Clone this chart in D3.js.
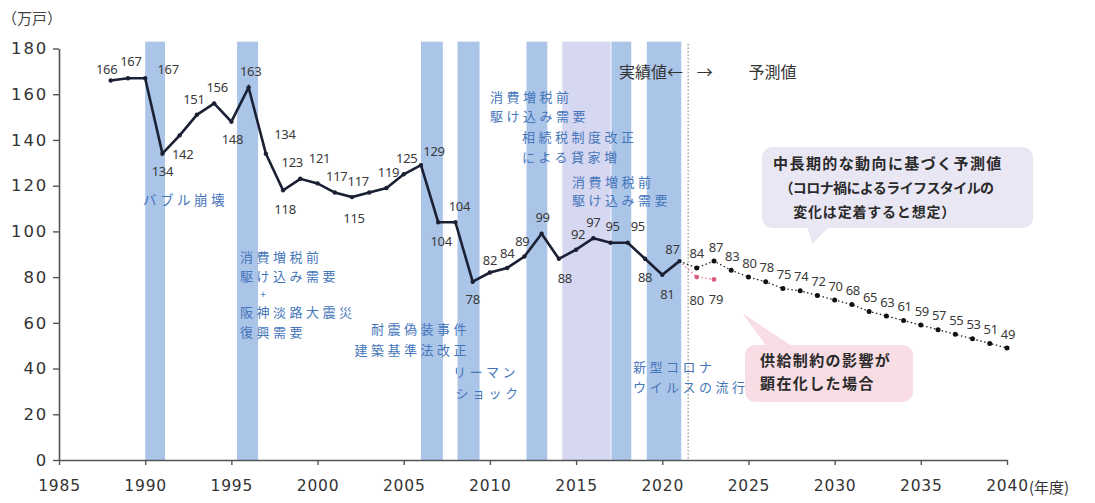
<!DOCTYPE html>
<html>
<head>
<meta charset="utf-8">
<script src="https://cdn.jsdelivr.net/npm/d3@7"></script>
<style>
  body { margin: 0; background: #fff; }
  svg { display: block; font-family: "Noto Sans CJK JP", "Noto Sans", sans-serif; }
</style>
</head>
<body>
<svg id="chart" width="1095" height="503"></svg>
<script>
// 新設住宅着工戸数（万戸、年度）
const actualYears = d3.range(1988, 2022);
const actualValues = [166, 167, 167, 134, 142, 151, 156, 148, 163, 134, 118, 123, 121, 117, 115, 117, 119, 125, 129, 104, 104, 78, 82, 84, 89, 99, 88, 92, 97, 95, 95, 88, 81, 87];

// 中長期的な動向に基づく予測値
const forecastYears = d3.range(2022, 2041);
const forecastValues = [84, 87, 83, 80, 78, 75, 74, 72, 70, 68, 65, 63, 61, 59, 57, 55, 53, 51, 49];

// 供給制約の影響が顕在化した場合
const supplyYears = [2022, 2023];
const supplyValues = [80, 79];

const yTickValues = [0, 20, 40, 60, 80, 100, 120, 140, 160, 180];
const xTickValues = [1985, 1990, 1995, 2000, 2005, 2010, 2015, 2020, 2025, 2030, 2035, 2040];

// 出来事の期間（年度）
const bandStarts = [1990.0, 1995.33, 2006.0, 2008.12, 2012.12, 2014.2, 2017.05, 2019.1];
const bandEnds   = [1991.15, 1996.55, 2007.27, 2009.4, 2013.33, 2017.0, 2018.2, 2021.1];
const bandKinds  = ["b", "b", "b", "b", "b", "l", "b", "b"];

// 実績値ラベルの位置調整 [dx, dy]
const actualLabelOffsets = [
  [-4, -11], [3, -17], [23, -9], [0, 18], [3, 19], [-3, -15], [3, -16], [1, 18], [2, -16], [19, -19],
  [2, 19], [-8, -16], [2, -25], [2, -16], [2, 21], [-11, -11], [2, -16], [3, -16], [13, -14], [3, 19],
  [4, -16], [0, 18], [0, -12], [0, -15], [-2, -15], [1, -16], [6, 20], [2, -15], [0, -16], [2, -16],
  [10, -16], [0, 19], [5, 20], [-7, -12]
];
const forecastLabelOffsets = [[0, -15], [2, -14]];
const forecastLabelDefault = [1, -14];
const supplyLabelOffsets = [[0, 23], [2, 20]];

const svg = d3.select("#chart");

const x = d3.scaleLinear().domain([1985, 2040]).range([59, 1007]);
const y = d3.scaleLinear().domain([0, 180]).range([460, 48.5]);

// 背景の帯
const bandColor = { b: "#abc5e9", l: "#d6d7f1" };
svg.append("g").selectAll("rect")
  .data(bandStarts.map((s, i) => ({ s, e: bandEnds[i], k: bandKinds[i] })))
  .join("rect")
  .attr("x", d => x(d.s))
  .attr("width", d => x(d.e) - x(d.s))
  .attr("y", y(183))
  .attr("height", y(0) - y(183))
  .attr("fill", d => bandColor[d.k]);

// 実績／予測の境界線
svg.append("line")
  .attr("x1", x(2021.5)).attr("x2", x(2021.5))
  .attr("y1", y(182)).attr("y2", y(0))
  .attr("stroke", "#777").attr("stroke-width", 1)
  .attr("stroke-dasharray", "1.5,2");

// 軸
const yAxis = svg.append("g")
  .attr("transform", `translate(${x(1985)},0)`)
  .call(d3.axisLeft(y).tickValues(yTickValues).tickSize(6).tickSizeOuter(0).tickPadding(5));
yAxis.select(".domain").attr("stroke", "#555").attr("stroke-width", 1.6);
yAxis.selectAll(".tick line").attr("stroke", "#555").attr("stroke-width", 1.4);
yAxis.selectAll(".tick text")
  .attr("font-family", "DejaVu Sans, sans-serif")
  .attr("font-size", 16.5).attr("fill", "#333").attr("letter-spacing", 1.8);

const xAxis = svg.append("g")
  .attr("transform", `translate(0,${y(0)})`)
  .call(d3.axisBottom(x).tickValues(xTickValues).tickFormat(d3.format("d"))
    .tickSize(5).tickSizeOuter(0).tickPadding(15));
xAxis.select(".domain").attr("stroke", "#555").attr("stroke-width", 1.6);
xAxis.selectAll(".tick line").attr("stroke", "#555").attr("stroke-width", 1.4);
xAxis.selectAll(".tick text")
  .attr("font-family", "DejaVu Sans, sans-serif")
  .attr("font-size", 15.5).attr("fill", "#333").attr("letter-spacing", 0.8);
svg.append("text")
  .attr("x", x(2040) + 22).attr("y", y(0) + 33)
  .attr("font-size", 15).attr("fill", "#333")
  .text("(年度)");

svg.append("text")
  .attr("x", 2).attr("y", 24)
  .attr("font-size", 15).attr("fill", "#444")
  .text("（万戸）");

// 予測（供給制約）
const supplyPts = [[2021, actualValues[actualValues.length - 1]]].concat(supplyYears.map((yr, i) => [yr, supplyValues[i]]));
const line = d3.line().x(d => x(d[0])).y(d => y(d[1]));
svg.append("path")
  .attr("d", line(supplyPts))
  .attr("fill", "none").attr("stroke", "#e27a92").attr("stroke-width", 1.3)
  .attr("stroke-dasharray", "1.5,2.5");
svg.append("g").selectAll("circle")
  .data(supplyYears.map((yr, i) => [yr, supplyValues[i]]))
  .join("circle")
  .attr("cx", d => x(d[0])).attr("cy", d => y(d[1])).attr("r", 2.4)
  .attr("fill", "#dd5c7c");

// 予測（中長期）
const forecastPts = [[2021, actualValues[actualValues.length - 1]]].concat(forecastYears.map((yr, i) => [yr, forecastValues[i]]));
svg.append("path")
  .attr("d", line(forecastPts))
  .attr("fill", "none").attr("stroke", "#222").attr("stroke-width", 1.3)
  .attr("stroke-dasharray", "1.5,2.5");
svg.append("g").selectAll("circle")
  .data(forecastYears.map((yr, i) => [yr, forecastValues[i]]))
  .join("circle")
  .attr("cx", d => x(d[0])).attr("cy", d => y(d[1])).attr("r", 2.5)
  .attr("fill", "#111");

// 実績
const actualPts = actualYears.map((yr, i) => [yr, actualValues[i]]);
svg.append("path")
  .attr("d", line(actualPts))
  .attr("fill", "none").attr("stroke", "#1b2033").attr("stroke-width", 2.6)
  .attr("stroke-linejoin", "miter");
svg.append("g").selectAll("circle")
  .data(actualPts)
  .join("circle")
  .attr("cx", d => x(d[0])).attr("cy", d => y(d[1])).attr("r", 2.2)
  .attr("fill", "#1b2033");

// 数値ラベル
function valueLabels(pts, offsets, fallback) {
  svg.append("g").selectAll("text")
    .data(pts)
    .join("text")
    .attr("x", (d, i) => x(d[0]) + (offsets[i] || fallback)[0])
    .attr("y", (d, i) => y(d[1]) + (offsets[i] || fallback)[1])
    .attr("dy", "0.35em")
    .attr("text-anchor", "middle")
    .attr("font-family", "Noto Sans, sans-serif")
    .attr("font-size", 13).attr("fill", "#3a3a3a")
    .attr("letter-spacing", -0.3)
    .text(d => d[1]);
}
valueLabels(actualPts, actualLabelOffsets, [0, -15]);
valueLabels(forecastYears.map((yr, i) => [yr, forecastValues[i]]), forecastLabelOffsets, forecastLabelDefault);
valueLabels(supplyYears.map((yr, i) => [yr, supplyValues[i]]), supplyLabelOffsets, [0, 20]);

// 出来事の注記
const eventNotes = [
  { t: "バブル崩壊", yr: 1989.87, v: 111.5, a: "start", s: 13.5 },
  { t: "消費増税前", yr: 1995.5, v: 86.4, a: "start", s: 13 },
  { t: "駆け込み需要", yr: 1995.5, v: 78.4, a: "start", s: 13 },
  { t: "+", yr: 1996.84, v: 71.0, a: "middle", s: 10 },
  { t: "阪神淡路大震災", yr: 1995.5, v: 62.6, a: "start", s: 13 },
  { t: "復興需要", yr: 1995.5, v: 54.0, a: "start", s: 13 },
  { t: "耐震偽装事件", yr: 2008.85, v: 54.9, a: "end", s: 13 },
  { t: "建築基準法改正", yr: 2008.85, v: 46.1, a: "end", s: 13 },
  { t: "リーマン", yr: 2007.86, v: 36.1, a: "start", s: 13 },
  { t: "ショック", yr: 2008.0, v: 27.3, a: "start", s: 13 },
  { t: "消費増税前", yr: 2010.0, v: 156.8, a: "start", s: 13 },
  { t: "駆け込み需要", yr: 2010.0, v: 148.5, a: "start", s: 13 },
  { t: "相続税制度改正", yr: 2011.86, v: 138.9, a: "start", s: 13 },
  { t: "による貸家増", yr: 2011.86, v: 130.4, a: "start", s: 13 },
  { t: "消費増税前", yr: 2014.76, v: 119.6, a: "start", s: 13 },
  { t: "駆け込み需要", yr: 2014.76, v: 111.5, a: "start", s: 13 },
  { t: "新型コロナ", yr: 2018.3, v: 38.7, a: "start", s: 13 },
  { t: "ウイルスの流行", yr: 2018.3, v: 29.7, a: "start", s: 13 }
];
svg.append("g").selectAll("text")
  .data(eventNotes)
  .join("text")
  .attr("x", d => x(d.yr)).attr("y", d => y(d.v))
  .attr("text-anchor", d => d.a)
  .attr("font-size", d => d.s).attr("letter-spacing", d => d.s >= 13 ? 3.5 : 0)
  .attr("fill", "#4676ba")
  .text(d => d.t);

// 実績値／予測値
svg.append("text").attr("x", x(2021.2)).attr("y", y(167.3))
  .attr("text-anchor", "end").attr("font-size", 16).attr("fill", "#333")
  .text("実績値←");
svg.append("text").attr("x", x(2022.0)).attr("y", y(167.3))
  .attr("font-size", 16).attr("fill", "#333")
  .text("→");
svg.append("text").attr("x", x(2025.0)).attr("y", y(167.3))
  .attr("font-size", 16).attr("fill", "#333")
  .text("予測値");

// 吹き出し
function callout(box, tail, fill) {
  const g = svg.append("g");
  g.append("path")
    .attr("d", d3.line()(tail.map(p => [x(p[0]), y(p[1])])) + "Z")
    .attr("fill", fill);
  g.append("rect")
    .attr("x", x(box[0])).attr("y", y(box[3]))
    .attr("width", x(box[1]) - x(box[0])).attr("height", y(box[2]) - y(box[3]))
    .attr("rx", 10).attr("fill", fill);
  return g;
}
const c1 = callout([2025.79, 2041.51, 101.5, 136.9], [[2028.4, 102.5], [2029.75, 102.5], [2028.7, 94.5]], "#e9e7f4");
c1.append("text").attr("x", x(2026.43)).attr("y", y(127.2))
  .attr("font-size", 15).attr("font-weight", 700).attr("letter-spacing", 1.4).attr("fill", "#2a2a2a")
  .text("中長期的な動向に基づく予測値");
c1.append("text").attr("x", x(2026.8)).attr("y", y(116.7))
  .attr("font-size", 14).attr("font-weight", 700).attr("letter-spacing", -0.6).attr("fill", "#2a2a2a")
  .text("（コロナ禍によるライフスタイルの");
c1.append("text").attr("x", x(2027.6)).attr("y", y(106.2))
  .attr("font-size", 14).attr("font-weight", 700).attr("letter-spacing", 0.8).attr("fill", "#2a2a2a")
  .text("変化は定着すると想定）");

const c2 = callout([2024.8, 2034.55, 25.4, 50.3], [[2026.13, 49.0], [2027.7, 49.0], [2024.63, 64.3]], "#f8dde4");
c2.append("text").attr("x", x(2025.67)).attr("y", y(41.2))
  .attr("font-size", 15).attr("font-weight", 700).attr("letter-spacing", 1.4).attr("fill", "#2a2a2a")
  .text("供給制約の影響が");
c2.append("text").attr("x", x(2025.67)).attr("y", y(31.1))
  .attr("font-size", 15).attr("font-weight", 700).attr("letter-spacing", 1.4).attr("fill", "#2a2a2a")
  .text("顕在化した場合");
</script>
</body>
</html>
